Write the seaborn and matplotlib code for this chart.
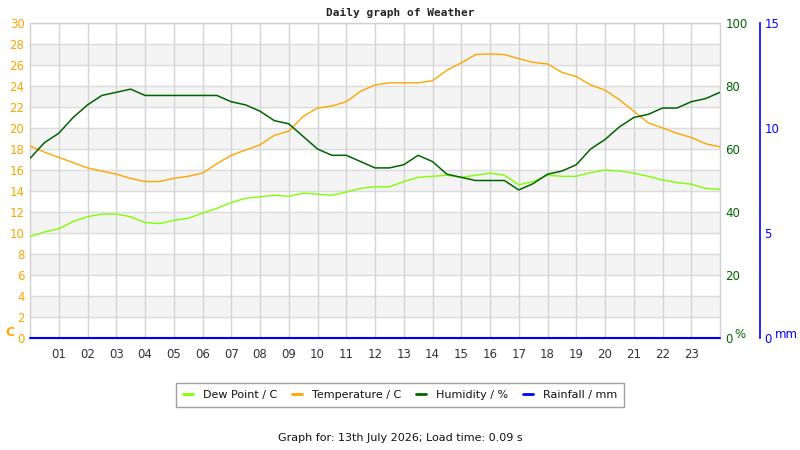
import numpy as np
import pandas as pd
import matplotlib
matplotlib.use("Agg")
import matplotlib.pyplot as plt
import seaborn as sns
from matplotlib.lines import Line2D

HOURS = [0.0, 0.5, 1.0, 1.5, 2.0, 2.5, 3.0, 3.5, 4.0, 4.5, 5.0, 5.5, 6.0, 6.5,
         7.0, 7.5, 8.0, 8.5, 9.0, 9.5, 10.0, 10.5, 11.0, 11.5, 12.0, 12.5,
         13.0, 13.5, 14.0, 14.5, 15.0, 15.5, 16.0, 16.5, 17.0, 17.5, 18.0,
         18.5, 19.0, 19.5, 20.0, 20.5, 21.0, 21.5, 22.0, 22.5, 23.0, 23.5, 24.0]

TEMPERATURE = [18.3, 17.7, 17.2, 16.7, 16.2, 15.9, 15.6, 15.2, 14.9, 14.9,
               15.2, 15.4, 15.7, 16.6, 17.4, 17.9, 18.4, 19.3, 19.7, 21.1,
               21.9, 22.1, 22.5, 23.5, 24.1, 24.3, 24.3, 24.3, 24.5, 25.5,
               26.2, 27.0, 27.05, 27.0, 26.6, 26.25, 26.1, 25.3, 24.9, 24.1,
               23.6, 22.7, 21.6, 20.5, 20.0, 19.5, 19.1, 18.5, 18.2]

DEW_POINT = [9.65, 10.1, 10.4, 11.1, 11.55, 11.8, 11.8, 11.55, 11.0, 10.9,
             11.2, 11.4, 11.9, 12.35, 12.9, 13.3, 13.45, 13.6, 13.5, 13.8,
             13.7, 13.6, 13.9, 14.25, 14.4, 14.4, 14.9, 15.3, 15.4, 15.5,
             15.3, 15.5, 15.7, 15.5, 14.6, 14.9, 15.5, 15.4, 15.4, 15.75,
             16.0, 15.9, 15.7, 15.4, 15.05, 14.8, 14.65, 14.25, 14.15]

HUMIDITY = [57, 62, 65, 70, 74, 77, 78, 79, 77, 77, 77, 77, 77, 77,
            75, 74, 72, 69, 68, 64, 60, 58, 58, 56, 54, 54, 55, 58, 56, 52,
            51, 50, 50, 50, 47, 49, 52, 53, 55, 60, 63, 67, 70, 71, 73, 73,
            75, 76, 78]

RAINFALL = [0.0] * len(HOURS)

HOUR_LABELS = [f"{h:02d}" for h in range(1, 24)]

C_TEMP = "#ffa500"
C_DEW = "#80ff00"
C_HUM = "#006400"
C_RAIN = "#0000ff"

df = pd.DataFrame({
    "hour": HOURS,
    "temperature": TEMPERATURE,
    "dew_point": DEW_POINT,
    "humidity": HUMIDITY,
    "rainfall": RAINFALL,
})

sns.set_theme(style="white")
plt.rcParams["font.family"] = ["DejaVu Sans"]

fig = plt.figure(figsize=(8, 4.5), dpi=100)
ax = fig.add_axes([30 / 800, 112 / 450, 690 / 800, 315 / 450])

# alternating grey bands and grid
for lo in range(2, 30, 4):
    ax.axhspan(lo, lo + 2, color="#f4f4f4", zorder=0)
for y in range(0, 31, 2):
    ax.axhline(y, color="#dcdcdc", lw=1, zorder=0.5)
for h in range(1, 24):
    ax.axvline(h, color="#d4d4d4", lw=1, zorder=0.5)

ax.set_xlim(0, 24)
ax.set_ylim(0, 30)
ax.set_yticks(range(0, 31, 2))
ax.set_xticks(range(1, 24))
ax.set_xticklabels(HOUR_LABELS)
ax.tick_params(axis="y", colors=C_TEMP, labelsize=8.5, length=0, pad=4)
ax.tick_params(axis="x", colors="#333333", labelsize=8.5, length=0, pad=7)
for s in ax.spines.values():
    s.set_color("#d0d0d0")
    s.set_linewidth(1)

ax_h = ax.twinx()
ax_h.set_ylim(0, 100)
ax_h.set_yticks(range(0, 101, 20))
ax_h.tick_params(axis="y", colors=C_HUM, labelsize=8.5, length=0, pad=4)
for s in ax_h.spines.values():
    s.set_visible(False)

ax_r = ax.twinx()
ax_r.set_ylim(0, 15)
ax_r.set_yticks([0, 5, 10, 15])
ax_r.spines["right"].set_position(("axes", 1.058))
for name, s in ax_r.spines.items():
    s.set_visible(name == "right")
ax_r.spines["right"].set_color(C_RAIN)
ax_r.spines["right"].set_linewidth(1.2)
ax_r.tick_params(axis="y", colors=C_RAIN, labelsize=8.5, length=0, pad=3)

sns.lineplot(data=df, x="hour", y="humidity", ax=ax_h, color=C_HUM,
             lw=1.1, zorder=3)
sns.lineplot(data=df, x="hour", y="temperature", ax=ax, color=C_TEMP,
             lw=1, zorder=3)
sns.lineplot(data=df, x="hour", y="dew_point", ax=ax, color=C_DEW,
             lw=1, zorder=3)
sns.lineplot(data=df, x="hour", y="rainfall", ax=ax_r, color=C_RAIN,
             lw=1.5, zorder=4, clip_on=False)

for a in (ax, ax_h, ax_r):
    a.set_xlabel("")
    a.set_ylabel("")
ax_h.set_zorder(2)
ax_r.set_zorder(3)
ax.set_zorder(1)
ax.patch.set_visible(True)
ax.set_facecolor("white")
ax_h.patch.set_visible(False)
ax_r.patch.set_visible(False)
ax.set_xlim(0, 24)

fig.text(400 / 800, 1 - 13 / 450, "Daily graph of Weather", ha="center",
         va="center", fontsize=8, fontweight="bold", family="DejaVu Sans Mono",
         color="#222222")
fig.text(5 / 800, 1 - 332 / 450, "C", ha="left", va="center", fontsize=9,
         fontweight="bold", color=C_TEMP)
fig.text(734 / 800, 1 - 334 / 450, "%", ha="left", va="center", fontsize=8.5,
         color=C_HUM)
fig.text(775 / 800, 1 - 335 / 450, "mm", ha="left", va="center", fontsize=8.5,
         color=C_RAIN)

handles = [
    Line2D([], [], color=C_DEW, lw=2),
    Line2D([], [], color=C_TEMP, lw=2),
    Line2D([], [], color=C_HUM, lw=2),
    Line2D([], [], color=C_RAIN, lw=2),
]
labels = ["Dew Point / C", "Temperature / C", "Humidity / %", "Rainfall / mm"]
leg = fig.legend(handles, labels, loc="center", bbox_to_anchor=(0.5, 1 - 395 / 450),
                 ncol=4, fontsize=8, frameon=True, fancybox=False,
                 handlelength=0.9, handletextpad=0.9, columnspacing=1.35,
                 borderpad=0.6, edgecolor="#888888")
leg.get_frame().set_linewidth(1)
for t in leg.get_texts():
    t.set_color("#111111")

fig.text(400 / 800, 1 - 438 / 450, "Graph for: 13th July 2026; Load time: 0.09 s",
         ha="center", va="center", fontsize=8, color="#111111")

fig.savefig("out.png", dpi=100, facecolor="white")
